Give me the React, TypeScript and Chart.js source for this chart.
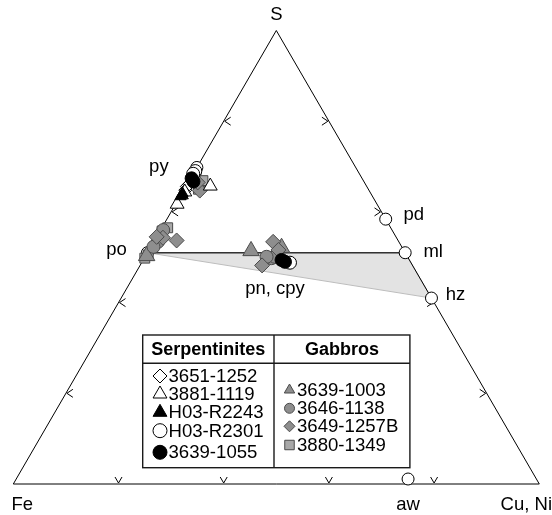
import React, { useEffect, useRef } from "react";
import { Chart, registerables } from "chart.js";
import { drawPoint } from "chart.js/helpers";

Chart.register(...registerables);

// ---- axis ticks (fractions along each edge) ----
const axisTicks = [0.2, 0.4, 0.6, 0.8];

// ---- reference minerals: S fraction, Cu+Ni fraction ----
const mineralNames = ["py", "po", "pd", "ml", "hz", "aw"];
const mineralS = [0.698, 0.51, 0.584, 0.51, 0.41, 0.011];
const mineralC = [0.0, 0.0, 0.416, 0.49, 0.59, 0.745];

// ---- po - ml - hz tie field ----
const tieS = [0.51, 0.51, 0.41, 0.51];
const tieC = [0.0, 0.49, 0.59, 0.0];

// ---- Serpentinites ----
const s3651_1252_S = [0.656, 0.648, 0.661];
const s3651_1252_C = [0.002, 0.003, 0.004];
const s3881_1119_S = [0.657, 0.617, 0.644];
const s3881_1119_C = [0.046, 0.003, 0.004];
const sH03_R2243_S = [0.641, 0.634, 0.636];
const sH03_R2243_C = [0.001, 0.001, 0.004];
const sH03_R2301_S = [0.69, 0.684, 0.488];
const sH03_R2301_C = [0.001, 0.0, 0.282];
const s3639_1055_S = [0.674, 0.667, 0.494, 0.49];
const s3639_1055_C = [0.002, 0.009, 0.263, 0.2715];

// ---- Gabbros ----
const g3639_1003_S = [0.514, 0.521, 0.503];
const g3639_1003_C = [0.195, 0.2495, 0.002];
const g3646_1138_S = [0.534, 0.523, 0.56, 0.686, 0.498, 0.501, 0.501];
const g3646_1138_C = [0.008, 0.005, 0.005, 0.002, 0.242, 0.247, 0.231];
const g3649_1257B_S = [0.534, 0.482, 0.516, 0.537, 0.543, 0.545, 0.647, 0.665];
const g3649_1257B_C = [0.227, 0.232, 0.246, 0.042, 0.013, 0.0, 0.031, 0.018];
const g3880_1349_S = [0.663, 0.65, 0.669, 0.558, 0.565, 0.505, 0.498];
const g3880_1349_C = [0.023, 0.027, 0.026, 0.004, 0.011, 0.004, 0.001];

// ---- text annotations (anchor in ternary S / CuNi, pixel nudge) ----
const labelText = ["S", "Fe", "Cu, Ni", "py", "po", "pd", "ml", "hz", "aw", "pn, cpy"];
const labelS = [1, 0, 0, 0.698, 0.51, 0.584, 0.51, 0.41, 0.011, 0.431];
const labelC = [0, 0, 1, 0, 0, 0.416, 0.49, 0.59, 0.745, 0.282];
const labelDx = [0, 9, -13, -38, -31, 28, 28, 24, 0, 0];
const labelDy = [-16, 21, 21, -1, -3, -4, -1, -3, 26, 0];

const toXY = (s: number[], c: number[]) => s.map((v, i) => ({ x: c[i] + v / 2, y: v }));

const FONT = '"Liberation Sans", Arial, Helvetica, sans-serif';
const GRAY = "#8e8e8e";
const GRAY_EDGE = "#4a4a4a";

function makePointSet(label: string, group: string, s: number[], c: number[], style: any, order: number) {
  return {
    label,
    group,
    data: toXY(s, c),
    showLine: false,
    pointStyle: style.shape,
    pointRadius: style.r,
    pointBackgroundColor: style.fill,
    pointBorderColor: style.edge,
    pointBorderWidth: 1,
    legendRadius: style.lr,
    clip: false,
    order,
  };
}

const OUTLINE_INDEX = 2;

const ticksPlugin = {
  id: "ternaryTicks",
  afterDatasetDraw(chart: any, args: any) {
    if (args.index !== OUTLINE_INDEX) return;
    const ctx = chart.ctx;
    const xs = chart.scales.x;
    const ys = chart.scales.y;
    ctx.save();
    ctx.strokeStyle = "#000";
    ctx.lineWidth = 1;
    axisTicks.forEach((t) => {
      // left edge (Fe-S)
      let px = xs.getPixelForValue(t / 2);
      let py = ys.getPixelForValue(t);
      ctx.beginPath();
      ctx.moveTo(px + 7, py - 4);
      ctx.lineTo(px + 1, py);
      ctx.lineTo(px + 7, py + 4);
      ctx.stroke();
      // right edge (S-CuNi)
      px = xs.getPixelForValue(1 - t + t / 2);
      py = ys.getPixelForValue(t);
      ctx.beginPath();
      ctx.moveTo(px - 7, py - 4);
      ctx.lineTo(px - 1, py);
      ctx.lineTo(px - 7, py + 4);
      ctx.stroke();
      // bottom edge (Fe-CuNi)
      px = xs.getPixelForValue(t);
      py = ys.getPixelForValue(0);
      ctx.beginPath();
      ctx.moveTo(px - 3.5, py - 7);
      ctx.lineTo(px, py - 1);
      ctx.lineTo(px + 3.5, py - 7);
      ctx.stroke();
    });
    ctx.restore();
  },
};

const labelsPlugin = {
  id: "ternaryLabels",
  afterDatasetsDraw(chart: any) {
    const ctx = chart.ctx;
    const xs = chart.scales.x;
    const ys = chart.scales.y;
    ctx.save();
    ctx.fillStyle = "#000";
    ctx.font = `18.5px ${FONT}`;
    ctx.textAlign = "center";
    ctx.textBaseline = "middle";
    labelText.forEach((t, i) => {
      const px = xs.getPixelForValue(labelC[i] + labelS[i] / 2) + labelDx[i];
      const py = ys.getPixelForValue(labelS[i]) + labelDy[i];
      ctx.fillText(t, px, py);
    });
    ctx.restore();
  },
};

const BOX = { l: 142.7, r: 409.9, t: 335, b: 467.7, mid: 274, head: 363.3 };
const SERP_ROWS = [376, 394, 412.3, 430.7, 452.3];
const GAB_ROWS = [390, 408.3, 426.3, 445];

const legendPlugin = {
  id: "tableLegend",
  afterDraw(chart: any) {
    const ctx = chart.ctx;
    ctx.save();
    ctx.fillStyle = "#fff";
    ctx.fillRect(BOX.l, BOX.t, BOX.r - BOX.l, BOX.b - BOX.t);
    ctx.strokeStyle = "#1a1a1a";
    ctx.lineWidth = 1.4;
    ctx.strokeRect(BOX.l, BOX.t, BOX.r - BOX.l, BOX.b - BOX.t);
    ctx.beginPath();
    ctx.moveTo(BOX.mid, BOX.t);
    ctx.lineTo(BOX.mid, BOX.b);
    ctx.moveTo(BOX.l, BOX.head);
    ctx.lineTo(BOX.r, BOX.head);
    ctx.stroke();

    ctx.fillStyle = "#000";
    ctx.font = `bold 18px ${FONT}`;
    ctx.textAlign = "center";
    ctx.textBaseline = "middle";
    ctx.fillText("Serpentinites", (BOX.l + BOX.mid) / 2, 350);
    ctx.fillText("Gabbros", (BOX.mid + BOX.r) / 2, 350);

    ctx.font = `18.6px ${FONT}`;
    ctx.textAlign = "left";
    let si = 0;
    let gi = 0;
    chart.data.datasets.forEach((ds: any) => {
      if (!ds.group) return;
      let mx: number, tx: number, y: number;
      if (ds.group === "Serpentinites") {
        y = SERP_ROWS[si++];
        mx = 160;
        tx = 168.5;
      } else {
        y = GAB_ROWS[gi++];
        mx = 289.5;
        tx = 297;
      }
      ctx.fillStyle = ds.pointBackgroundColor;
      ctx.strokeStyle = ds.pointBorderColor;
      ctx.lineWidth = 1;
      drawPoint(ctx, { pointStyle: ds.pointStyle, radius: ds.legendRadius, borderWidth: 1, rotation: 0 } as any, mx, y);
      ctx.fillStyle = "#000";
      ctx.fillText(ds.label, tx, y + 1);
    });
    ctx.restore();
  },
};

export default function App() {
  const ref = useRef<HTMLCanvasElement>(null);

  useEffect(() => {
    document.body.style.margin = "0";
    const canvas = ref.current;
    if (!canvas) return;

    const datasets: any[] = [
      {
        label: "tie",
        data: toXY(tieS, tieC),
        showLine: true,
        fill: "shape",
        backgroundColor: "#e3e3e3",
        borderColor: "#bdbdbd",
        borderWidth: 1,
        pointRadius: 0,
        tension: 0,
        clip: false,
        order: 30,
      },
      {
        label: "po-ml",
        data: toXY([tieS[0], tieS[1]], [tieC[0], tieC[1]]),
        showLine: true,
        fill: false,
        borderColor: "#333",
        borderWidth: 1.5,
        pointRadius: 0,
        clip: false,
        order: 29,
      },
      {
        label: "outline",
        data: toXY([0, 0, 1, 0], [0, 1, 0, 0]),
        showLine: true,
        fill: false,
        borderColor: "#000",
        borderWidth: 1,
        pointRadius: 0,
        clip: false,
        order: 28,
      },
      {
        label: "minerals",
        data: toXY(mineralS, mineralC),
        showLine: false,
        pointStyle: "circle",
        pointRadius: 6,
        pointBackgroundColor: "#fff",
        pointBorderColor: "#000",
        pointBorderWidth: 1,
        clip: false,
        order: 27,
      },
      makePointSet("3651-1252", "Serpentinites", s3651_1252_S, s3651_1252_C, { shape: "rectRot", r: 6.5, fill: "#fff", edge: "#000", lr: 7 }, 6),
      makePointSet("3881-1119", "Serpentinites", s3881_1119_S, s3881_1119_C, { shape: "triangle", r: 8, fill: "#fff", edge: "#000", lr: 8 }, 5),
      makePointSet("H03-R2243", "Serpentinites", sH03_R2243_S, sH03_R2243_C, { shape: "triangle", r: 6.5, fill: "#000", edge: "#000", lr: 8 }, 4),
      makePointSet("H03-R2301", "Serpentinites", sH03_R2301_S, sH03_R2301_C, { shape: "circle", r: 6.5, fill: "#fff", edge: "#000", lr: 7 }, 3),
      makePointSet("3639-1055", "Serpentinites", s3639_1055_S, s3639_1055_C, { shape: "circle", r: 6.5, fill: "#000", edge: "#000", lr: 7 }, 2),
      makePointSet("3639-1003", "Gabbros", g3639_1003_S, g3639_1003_C, { shape: "triangle", r: 9.5, fill: GRAY, edge: GRAY_EDGE, lr: 6 }, 10),
      makePointSet("3646-1138", "Gabbros", g3646_1138_S, g3646_1138_C, { shape: "circle", r: 6.5, fill: GRAY, edge: GRAY_EDGE, lr: 5 }, 9),
      makePointSet("3649-1257B", "Gabbros", g3649_1257B_S, g3649_1257B_C, { shape: "rectRot", r: 7.5, fill: GRAY, edge: GRAY_EDGE, lr: 5.5 }, 8),
      makePointSet("3880-1349", "Gabbros", g3880_1349_S, g3880_1349_C, { shape: "rect", r: 7, fill: "#a8a8a8", edge: GRAY_EDGE, lr: 6.7 }, 11),
    ];

    const chart = new Chart(canvas, {
      type: "scatter",
      data: { datasets },
      options: {
        animation: false,
        responsive: false,
        devicePixelRatio: 1,
        layout: { padding: { left: 13.3, right: 12.7, top: 30.5, bottom: 31 } },
        scales: {
          x: { type: "linear", min: 0, max: 1, display: false },
          y: { type: "linear", min: 0, max: 1, display: false },
        },
        plugins: {
          legend: { display: false },
          tooltip: { enabled: false },
        },
      },
      plugins: [ticksPlugin, labelsPlugin, legendPlugin],
    } as any);

    return () => chart.destroy();
  }, []);

  return (
    <div style={{ width: 552, height: 515, background: "#fff" }}>
      <canvas ref={ref} width={552} height={515} style={{ display: "block", width: 552, height: 515 }} />
    </div>
  );
}
